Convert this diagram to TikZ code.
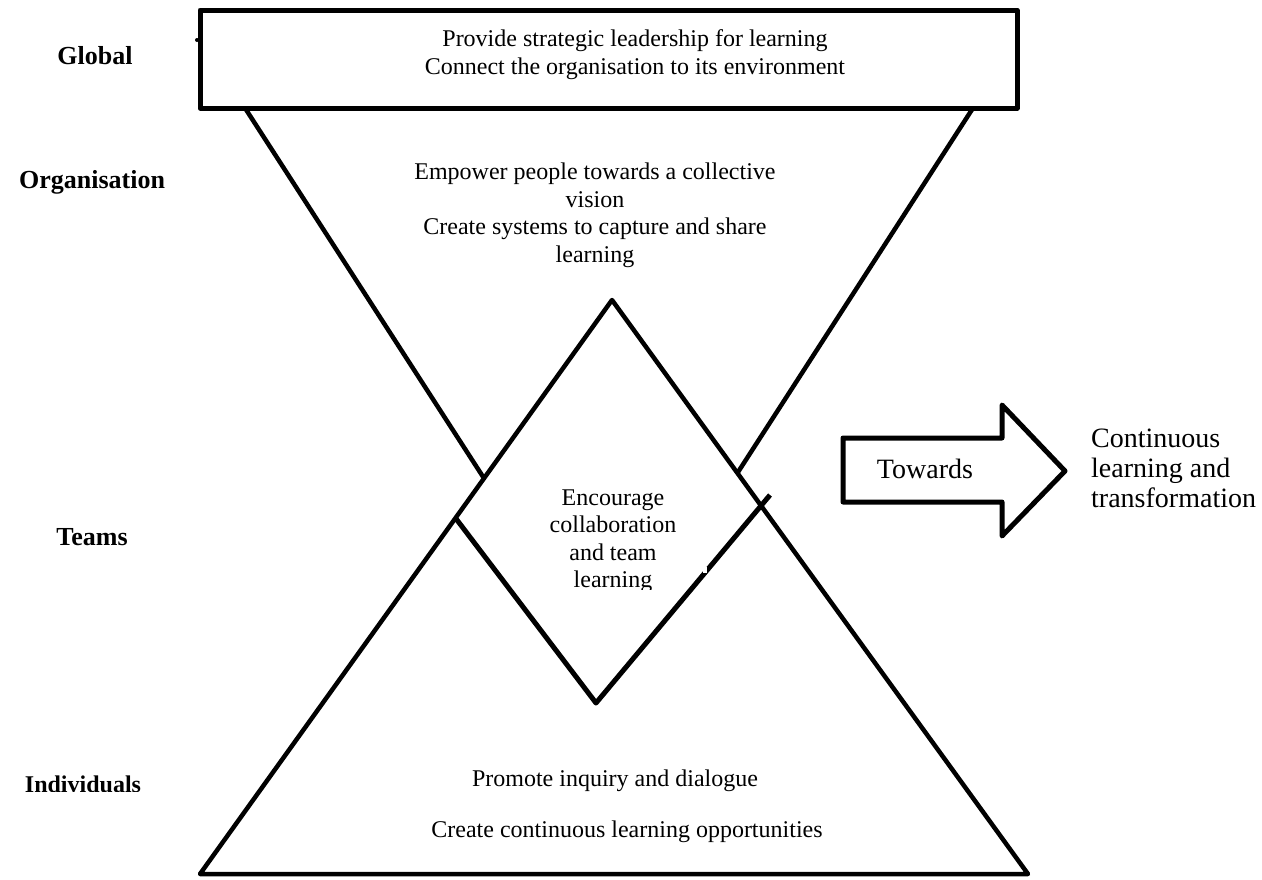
\documentclass[tikz,border=0pt]{standalone}
\usepackage{fontspec}
\setmainfont{Liberation Serif}
\begin{document}
\begin{tikzpicture}[x=1pt,y=-1pt,
  shapeline/.style={draw=black,line width=4.5pt,line join=round,line cap=round},
  boxline/.style={draw=black,line width=5pt,line join=round},
  bodytext/.style={font=\fontsize{24}{27.5}\selectfont,align=center,inner sep=0pt},
  arrowtext/.style={font=\fontsize{28}{30}\selectfont,inner sep=0pt},
  leveltext/.style={font=\fontsize{26}{30}\selectfont\bfseries,inner sep=0pt,anchor=base}]
\useasboundingbox (0,0) rectangle (1262,879);
% key points
\coordinate (apex) at (612,300);
\coordinate (baseL) at (200,874);
\coordinate (baseR) at (1028,874);
\coordinate (dL) at (455.5,518);
\coordinate (dB) at (596,703);
\coordinate (dR) at (761,506);
\coordinate (tick) at (770,495);
\coordinate (invL) at (245,108);
\coordinate (invR) at (973,108);
\coordinate (invApex) at (609,672);
% inverted triangle (sides)
\draw[shapeline] (invL) -- (invApex) -- (invR);
% diamond area hides the lower part
\fill[white] (apex) -- (dL) -- (dB) -- (dR) -- cycle;
% upright triangle
\draw[shapeline] (baseL) -- (apex) -- (baseR) -- cycle;
% lower V of the diamond
\draw[shapeline,line width=5pt,line cap=butt] (dL) -- (dB) -- (tick);
\fill[white] (703,567) rectangle (707,572.5);
% top box
\node[boxline,fill=white,minimum width=817pt,minimum height=98pt,inner sep=0pt] (topbox) at (608.5,59) {};
\fill (197,40) circle (2pt);
\node[bodytext] (toptext) at (635,54.5) {Provide strategic leadership for learning\\Connect the organisation to its environment};
% organisation text
\node[bodytext] (orgtext) at (595,215.5) {Empower people towards a collective\\vision\\Create systems to capture and share\\learning};
% teams text (clipped)
\begin{scope}
\clip (480,440) rectangle (750,589);
\node[bodytext] (teamtext) at (613,541) {Encourage\\collaboration\\and team\\learning};
\end{scope}
% individuals text
\node[bodytext,anchor=base] (ind1) at (615,786) {Promote inquiry and dialogue};
\node[bodytext,anchor=base] (ind2) at (627,837) {Create continuous learning opportunities};
% level labels
\node[leveltext] (global) at (95,64) {Global};
\node[leveltext] (organisation) at (92,188) {Organisation};
\node[leveltext] (teams) at (92,545) {Teams};
\begin{scope}
\clip (0,760) rectangle (200,791);
\node[leveltext,font=\fontsize{24}{28}\selectfont\bfseries] (individuals) at (83,792) {Individuals};
\end{scope}
% arrow
\draw[boxline] (843,438) -- (1002,438) -- (1002,405) -- (1065,471) -- (1002,536) -- (1002,502) -- (843,502) -- cycle;
\node[arrowtext,anchor=base] (towards) at (925,478) {Towards};
\node[arrowtext,align=left,anchor=north west] (result) at (1091,429) {Continuous\\learning and\\transformation};
\end{tikzpicture}
\end{document}
